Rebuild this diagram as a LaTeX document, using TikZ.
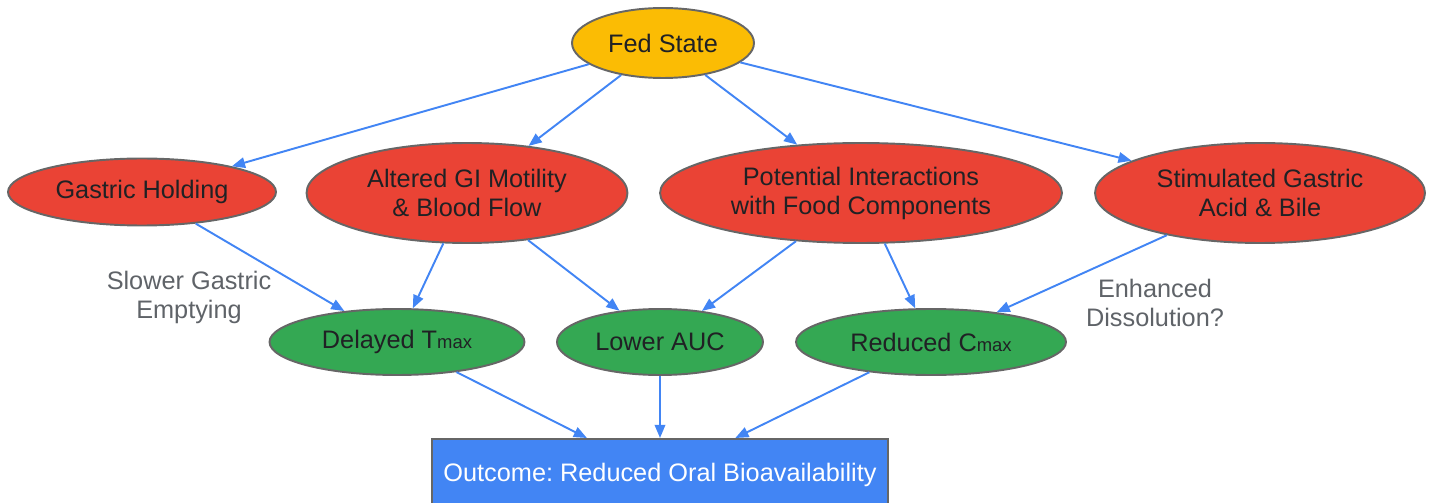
\documentclass[tikz,border=0pt]{standalone}
\usepackage{fontspec}
\setmainfont{Liberation Sans}
\usepackage{xcolor}
\usetikzlibrary{shapes.geometric,arrows.meta,positioning}

\definecolor{fedc}{HTML}{FBBC04}
\definecolor{redc}{HTML}{EA4335}
\definecolor{grnc}{HTML}{34A853}
\definecolor{bluc}{HTML}{4285F4}
\definecolor{edgec}{HTML}{666666}
\definecolor{txtc}{HTML}{202124}
\definecolor{labc}{HTML}{5F6368}

\tikzset{
  ell/.style = {ellipse, draw=edgec, line width=1.1pt, inner sep=0pt, text=txtc, align=center},
  lab/.style = {text=labc, align=center},
  link/.style = {draw=bluc, line width=1.1pt, -{Triangle[length=7.5pt, width=6pt]}}
}
\frenchspacing

\begin{document}
\begin{tikzpicture}[x=0.02cm, y=-0.02cm, font=\fontsize{14.4}{16.5}\selectfont]
\useasboundingbox (0,0) rectangle (1433,503);
% top
\node[ell, fill=fedc, minimum width=3.64cm, minimum height=1.4cm] (fed) at (663,43) {Fed State};
% middle row
\node[ell, fill=redc, minimum width=5.36cm, minimum height=1.34cm] (hold) at (142,192) {Gastric Holding};
\node[ell, fill=redc, minimum width=6.42cm, minimum height=2cm] (motil) at (467,193) {Altered GI Motility\\\& Blood Flow};
\node[ell, fill=redc, minimum width=8.04cm, minimum height=2cm] (inter) at (861,193) {Potential Interactions\\with Food Components};
\node[ell, fill=redc, minimum width=6.6cm, minimum height=2cm] (acid) at (1260,193) {Stimulated Gastric\\Acid \& Bile};
% effects
\node[ell, fill=grnc, minimum width=5.1cm, minimum height=1.32cm] (tmax) at (397,342) {Delayed T{\fontsize{10.5}{12}\selectfont max}};
\node[ell, fill=grnc, minimum width=4.12cm, minimum height=1.32cm] (auc) at (660,342) {Lower AUC};
\node[ell, fill=grnc, minimum width=5.4cm, minimum height=1.32cm] (cmax) at (931,342) {Reduced C{\fontsize{10.5}{12}\selectfont max}};
% outcome
\node[draw=edgec, line width=1.1pt, fill=bluc, text=white, minimum width=9.12cm, minimum height=1.44cm, anchor=north] (out) at (660,438) {Outcome: Reduced Oral Bioavailability};
% side labels
\node[lab] (slow) at (189,297) {Slower Gastric\\Emptying};
\node[lab] (enh) at (1155,303) {Enhanced\\Dissolution?};
% links
\draw[link] (fed) -- (hold);
\draw[link] (fed) -- (motil);
\draw[link] (fed) -- (inter);
\draw[link] (fed) -- (acid);
\draw[link] (hold) -- (tmax);
\draw[link] (motil) -- (tmax);
\draw[link] (motil) -- (auc);
\draw[link] (inter) -- (auc);
\draw[link] (inter) -- (cmax);
\draw[link] (acid) -- (cmax);
\draw[link] (tmax) -- (out);
\draw[link] (auc) -- (out);
\draw[link] (cmax) -- (out);
\end{tikzpicture}
\end{document}
